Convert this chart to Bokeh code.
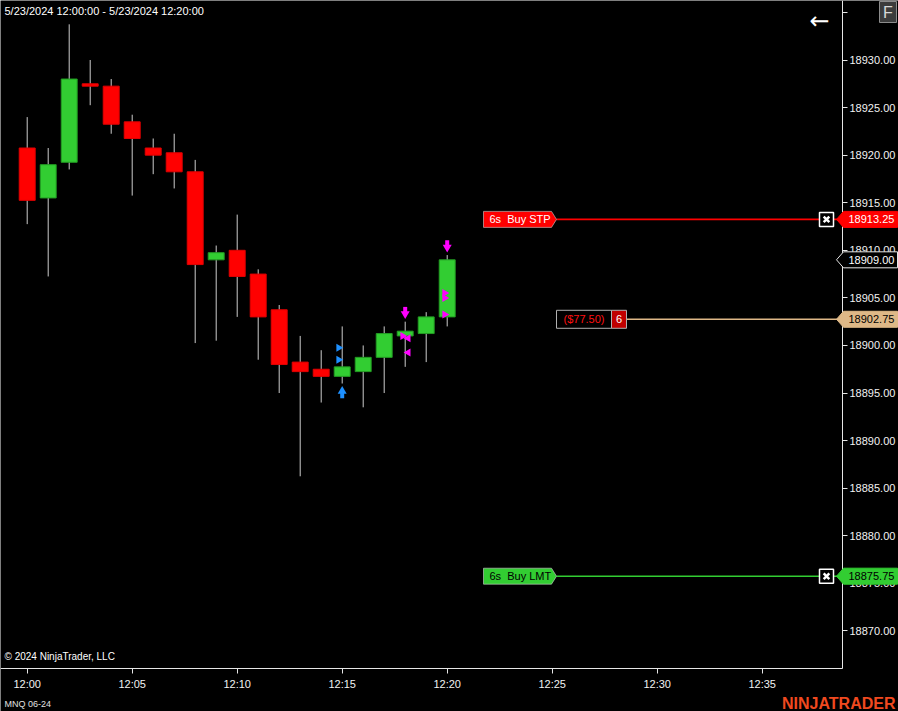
import numpy as np
from bokeh.plotting import figure
from bokeh.models import Range1d, FixedTicker, NumeralTickFormatter, Label, ColumnDataSource, LinearAxis
from bokeh.embed import file_html
from bokeh.resources import INLINE
from bokeh.core.properties import value

# ---------------- data ----------------
bar_minutes = list(range(21))  # minutes after 12:00
opens = [18920.75, 18915.5, 18919.25, 18927.5, 18927.25, 18923.5, 18920.75, 18920.25, 18918.25, 18909.0,
         18910.0, 18907.5, 18903.75, 18898.25, 18897.5, 18896.75, 18897.25, 18898.75, 18901.0, 18901.25, 18903.0]
highs = [18924.0, 18920.75, 18933.75, 18930.0, 18928.0, 18924.25, 18921.75, 18922.25, 18919.5, 18910.5,
         18913.75, 18908.0, 18904.25, 18901.0, 18899.5, 18902.0, 18900.0, 18902.0, 18902.5, 18903.5, 18909.5]
lows = [18912.75, 18907.25, 18918.5, 18925.25, 18922.25, 18915.75, 18918.0, 18916.5, 18900.25, 18900.5,
        18903.0, 18898.5, 18895.0, 18886.25, 18894.0, 18896.0, 18893.5, 18895.0, 18897.75, 18898.25, 18902.0]
closes = [18915.25, 18919.0, 18928.0, 18927.25, 18923.25, 18921.75, 18920.0, 18918.25, 18908.5, 18909.75,
          18907.25, 18903.0, 18898.0, 18897.25, 18896.75, 18897.75, 18898.75, 18901.25, 18901.5, 18903.0, 18909.0]

x_tick_minutes = [0, 5, 10, 15, 20, 25, 30, 35]
x_tick_labels = ["12:00", "12:05", "12:10", "12:15", "12:20", "12:25", "12:30", "12:35"]
y_ticks = [18870, 18875, 18880, 18885, 18890, 18895, 18900, 18905, 18910, 18915, 18920, 18925, 18930, 18935]

order_labels = ["6s  Buy STP", "6s  Buy LMT"]
order_prices = [18913.25, 18875.75]
position_price = 18902.75
position_pnl = "($77.50)"
position_qty = "6"
last_price = 18909.00

entry_arrow_minutes = [15]
entry_arrow_prices = [18895.5]
exit_arrow_minutes = [18, 20]
exit_arrow_prices = [18903.0, 18910.0]
entry_fill_minutes = [15, 15]
entry_fill_prices = [18899.75, 18898.5]
exit_fill_r_minutes = [18, 20, 20, 20]
exit_fill_r_prices = [18901.0, 18905.5, 18905.0, 18903.25]
exit_fill_l_minutes = [18, 18]
exit_fill_l_prices = [18900.75, 18899.25]

title_text = "5/23/2024 12:00:00 - 5/23/2024 12:20:00"
copyright_text = "\u00a9 2024 NinjaTrader, LLC"
instrument_text = "MNQ 06-24"
logo_text = "NINJATRADER"

# ---------------- layout helpers (reference pixel -> data) ----------------
W, H = 898, 711
PX_MIN = 21.0     # px per minute
PX_PT = 9.515     # px per point
def X(px):
    return (px - 26.7) / PX_MIN
def Y(py):
    return 18930 - (py - 59.5) / PX_PT
px_pt = 1.0 / PX_PT
px_min = 1.0 / PX_MIN

FONT = "Liberation Sans"
RED = "#ff0000"
GREEN = "#32cd32"
TAN = "#deb887"
MAGENTA = "#ff00ff"
BLUE = "#1e90ff"

p = figure(width=W, height=H,
           x_range=Range1d(X(0), X(W)), y_range=Range1d(Y(H), Y(0)),
           x_axis_location=None, y_axis_location=None,
           output_backend="svg", toolbar_location=None,
           min_border=0, background_fill_color="black", border_fill_color="black",
           outline_line_color=None)
p.grid.visible = False

# axes drawn at fixed positions inside the canvas
xa = LinearAxis(fixed_location=Y(668.3), bounds=(X(0), X(842)))
xa.ticker = FixedTicker(ticks=x_tick_minutes)
xa.major_label_overrides = {t: l for t, l in zip(x_tick_minutes, x_tick_labels)}
ya = LinearAxis(fixed_location=X(842), bounds=(Y(668.3), Y(0)))
ya.ticker = FixedTicker(ticks=y_ticks)
ya.formatter = NumeralTickFormatter(format="0.00")
ya.major_label_overrides = {y_ticks[-1]: ""}
for ax in (xa, ya):
    ax.axis_line_color = "#e6e6e6"
    ax.major_tick_line_color = "#e6e6e6"
    ax.major_tick_out = 5
    ax.major_tick_in = 0
    ax.minor_tick_line_color = None
    ax.major_label_text_color = "#f2f2f2"
    ax.major_label_text_font = FONT
    ax.major_label_text_font_size = "11px"
xa.major_label_standoff = 4
ya.major_label_standoff = 2
p.add_layout(xa, "below")
p.add_layout(ya, "right")

# candles
o = np.array(opens); c = np.array(closes)
up = c >= o
src = ColumnDataSource(dict(
    t=bar_minutes, high=highs, low=lows,
    top=np.maximum(o, c), bottom=np.minimum(o, c),
    fill=[GREEN if u else RED for u in up],
    line=["#239b23" if u else "#e00000" for u in up],
))
p.segment(x0="t", y0="low", x1="t", y1="high", source=src, line_color="#cccccc", line_width=1)
p.vbar(x="t", width=0.76, top="top", bottom="bottom", source=src,
       fill_color="fill", line_color="line", line_width=1)

# execution markers
ea_t = np.array(entry_arrow_minutes); ea_p = np.array(entry_arrow_prices)
p.vbar(x=ea_t, width=4 * px_min, top=ea_p - 4 * px_pt, bottom=ea_p - 10 * px_pt,
       fill_color=BLUE, line_color=None)
p.scatter(x=ea_t, y=ea_p - 3 * px_pt, marker="triangle", size=9, fill_color=BLUE, line_color=None)
xa_t = np.array(exit_arrow_minutes); xa_p = np.array(exit_arrow_prices)
p.vbar(x=xa_t, width=4 * px_min, top=xa_p + 10 * px_pt, bottom=xa_p + 4 * px_pt,
       fill_color=MAGENTA, line_color=None)
p.scatter(x=xa_t, y=xa_p + 3 * px_pt, marker="inverted_triangle", size=9, fill_color=MAGENTA, line_color=None)

p.scatter(x=np.array(entry_fill_minutes) - 3.5 * px_min, y=entry_fill_prices, marker="triangle",
          angle=-np.pi / 2, size=8, fill_color=BLUE, line_color=None)
p.scatter(x=np.array(exit_fill_r_minutes) - 2.5 * px_min, y=exit_fill_r_prices, marker="triangle",
          angle=-np.pi / 2, size=8, fill_color=MAGENTA, line_color=None)
p.scatter(x=np.array(exit_fill_l_minutes) + 3.0 * px_min, y=exit_fill_l_prices, marker="triangle",
          angle=np.pi / 2, size=8, fill_color=MAGENTA, line_color=None)

# order lines
h = 8 * px_pt
order_fill = [RED, GREEN]
order_text_color = ["white", "black"]
for lab, pr, fc, tc in zip(order_labels, order_prices, order_fill, order_text_color):
    p.segment(x0=[X(556)], x1=[X(842)], y0=[pr], y1=[pr], line_color=fc, line_width=1.6)
    p.patch(x=[X(483), X(551), X(556), X(551), X(483)], y=[pr + h, pr + h, pr, pr - h, pr - h],
            fill_color=fc, line_color="#d0d0d0", line_width=0.6)
    p.text(x=[X(489)], y=[pr], text=[lab.replace("  ", "\u00a0 ")], text_color=tc, text_font=value(FONT),
           text_font_size="11px", text_baseline="middle", text_align="left")
    p.scatter(x=[X(826)], y=[pr], marker="square", size=14, fill_color="black",
              line_color="white", line_width=1.5)
    p.scatter(x=[X(826)], y=[pr], marker="x", size=8, line_color="white", line_width=2.5)

# position line
hp = 9 * px_pt
p.segment(x0=[X(626)], x1=[X(842)], y0=[position_price], y1=[position_price], line_color=TAN, line_width=1.6)
p.quad(left=[X(556)], right=[X(611)], top=[position_price + hp], bottom=[position_price - hp],
       fill_color="black", line_color="#b0b0b0", line_width=1)
p.quad(left=[X(611)], right=[X(626)], top=[position_price + hp], bottom=[position_price - hp],
       fill_color="#c00000", line_color="#b0b0b0", line_width=1)
p.text(x=[X(583.5)], y=[position_price], text=[position_pnl], text_color="#ff1010", text_font=value(FONT),
       text_font_size="11px", text_baseline="middle", text_align="center")
p.text(x=[X(618.5)], y=[position_price], text=[position_qty], text_color="white", text_font=value(FONT),
       text_font_size="11px", text_baseline="middle", text_align="center")

# price tags on the axis (drawn above the axis)
tags = [(order_prices[0], RED, RED, "white"),
        (last_price, "black", "#e6e6e6", "white"),
        (position_price, TAN, TAN, "black"),
        (order_prices[1], GREEN, GREEN, "black")]
for pr, bg, bd, tc in tags:
    p.patch(x=[X(836), X(843), X(897), X(897), X(843)], y=[pr, pr + h, pr + h, pr - h, pr - h],
            fill_color=bg, line_color=bd, line_width=1, level="overlay")
    p.text(x=[X(848)], y=[pr], text=[f"{pr:.2f}"], text_color=tc, text_font=value(FONT),
           text_font_size="11px", text_baseline="middle", text_align="left", level="overlay")

# F button
p.quad(left=[X(879)], right=[X(896)], top=[Y(1)], bottom=[Y(22)],
       fill_color="#3c3c3c", line_color="#8c8c8c", line_width=1, level="overlay")
p.text(x=[X(887.5)], y=[Y(12)], text=["F"], text_color="#d8d8d8", text_font=value(FONT),
       text_font_size="16px", text_baseline="middle", text_align="center", level="overlay")

# texts
p.add_layout(Label(x=X(4), y=Y(10), text=title_text, text_align="left", text_baseline="middle",
                   text_font=FONT, text_font_size="11px", text_color="white"))
p.add_layout(Label(x=X(4), y=Y(656), text=copyright_text, text_align="left", text_baseline="middle",
                   text_font=FONT, text_font_size="10px", text_color="white"))
p.add_layout(Label(x=X(4), y=Y(703), text=instrument_text, text_align="left", text_baseline="middle",
                   text_font=FONT, text_font_size="9px", text_color="#e0e0e0"))
p.add_layout(Label(x=X(895), y=Y(703), text=logo_text, text_align="right", text_baseline="middle",
                   text_font=FONT, text_font_size="16px", text_font_style="bold", text_color="#f0491f"))
p.add_layout(Label(x=X(819), y=Y(20), text="\u2190", text_align="center", text_baseline="middle",
                   text_font="DejaVu Sans", text_font_size="24px", text_color="white"))

open("out.html", "w").write(file_html(p, INLINE))
